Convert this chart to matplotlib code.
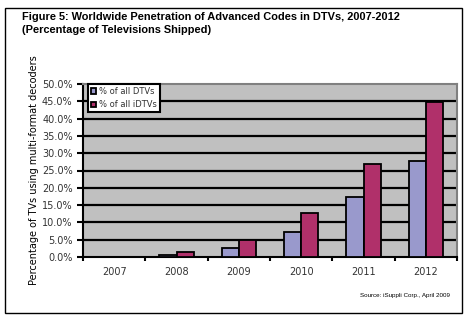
import matplotlib.pyplot as plt
import numpy as np
from matplotlib.patches import Rectangle

years = ["2007", "2008", "2009", "2010", "2011", "2012"]
dtv_pct = [0.0, 0.7, 2.7, 7.2, 17.3, 27.8]
idtv_pct = [0.0, 1.4, 4.9, 12.8, 26.9, 44.8]
y_ticks = np.arange(0, 50.1, 5)

W, H = 468, 321
fig = plt.figure(figsize=(W / 100, H / 100), dpi=100)
fig.patch.set_facecolor("white")

# outer frame around the whole figure
fig.patches.append(Rectangle((5 / W, 1 - 313 / H), 457 / W, 305 / H,
                             transform=fig.transFigure, fill=False,
                             edgecolor="black", linewidth=1.0))

fig.text(22 / W, 1 - 17 / H, "Figure 5: Worldwide Penetration of Advanced Codes in DTVs, 2007-2012",
         fontsize=7.9, fontweight="bold", family="Liberation Sans", va="center")
fig.text(22 / W, 1 - 30 / H, "(Percentage of Televisions Shipped)",
         fontsize=7.9, fontweight="bold", family="Liberation Sans", va="center")

ax = fig.add_axes([83 / W, (H - 257) / H, 374 / W, 173 / H])
ax.set_facecolor("#c0c0c0")

x = np.arange(len(years))
w = 0.275
ax.bar(x - w / 2, dtv_pct, w, color="#9999cc", edgecolor="black", linewidth=1.3,
       label="% of all DTVs", zorder=3)
ax.bar(x + w / 2, idtv_pct, w, color="#b0306a", edgecolor="black", linewidth=1.3,
       label="% of all iDTVs", zorder=3)

ax.set_xlim(-0.5, len(years) - 0.5)
ax.set_ylim(0, 50)
ax.set_yticks(y_ticks)
ax.set_yticklabels([f"{v:.1f}%" for v in y_ticks])
for v in y_ticks[1:-1]:
    ax.axhline(v, color="black", linewidth=1.6, zorder=1)

ax.set_xticks(x)
ax.set_xticklabels(years)
ax.set_xticks(np.arange(-0.5, len(years)), minor=True)
ax.tick_params(axis="x", which="major", length=0, pad=7, labelsize=7, labelcolor="#333333")
ax.tick_params(axis="x", which="minor", length=3, width=1.5, direction="out")
ax.tick_params(axis="y", length=4, width=1.5, labelsize=7, labelcolor="#333333")

for side in ["top", "right"]:
    ax.spines[side].set_color("#808080")
    ax.spines[side].set_linewidth(1.5)
for side in ["left", "bottom"]:
    ax.spines[side].set_color("black")
    ax.spines[side].set_linewidth(1.5)

ax.set_ylabel("Percentage of TVs using multi-format decoders", fontsize=7, labelpad=2)

leg = ax.legend(loc="upper left", bbox_to_anchor=(0.013, 1.0), fontsize=6,
                fancybox=False, framealpha=1, edgecolor="black",
                handlelength=0.6, handleheight=0.6, handletextpad=0.4,
                borderpad=0.35, labelspacing=0.5, borderaxespad=0)
leg.get_frame().set_linewidth(1.5)
for t in leg.get_texts():
    t.set_color("#333333")

fig.text(450 / W, 1 - 296 / H, "Source: iSuppli Corp., April 2009",
         fontsize=4.5, ha="right", va="center", family="Liberation Sans")

fig.savefig("out.png", dpi=100)
